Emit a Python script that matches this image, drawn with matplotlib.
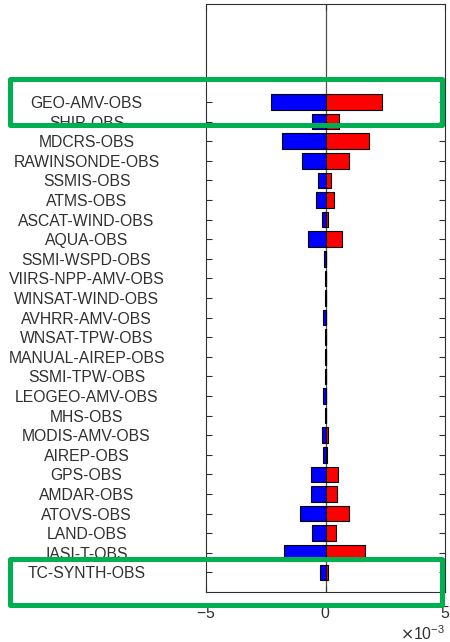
import matplotlib
matplotlib.use("Agg")
import numpy as np
import matplotlib.pyplot as plt
from matplotlib.patches import Rectangle
from matplotlib.ticker import ScalarFormatter

plt.rcParams['font.family'] = ['Liberation Sans', 'DejaVu Sans']

# observation types, listed top to bottom
obs_types = [
    "GEO-AMV-OBS", "SHIP-OBS", "MDCRS-OBS", "RAWINSONDE-OBS", "SSMIS-OBS",
    "ATMS-OBS", "ASCAT-WIND-OBS", "AQUA-OBS", "SSMI-WSPD-OBS",
    "VIIRS-NPP-AMV-OBS", "WINSAT-WIND-OBS", "AVHRR-AMV-OBS", "WNSAT-TPW-OBS",
    "MANUAL-AIREP-OBS", "SSMI-TPW-OBS", "LEOGEO-AMV-OBS", "MHS-OBS",
    "MODIS-AMV-OBS", "AIREP-OBS", "GPS-OBS", "AMDAR-OBS", "ATOVS-OBS",
    "LAND-OBS", "IASI-T-OBS", "TC-SYNTH-OBS",
]

# negative (beneficial) impact, blue
impact_neg = np.array([
    -2.30, -0.56, -1.80, -1.00, -0.31, -0.40, -0.15, -0.75, -0.06,
    -0.02, -0.02, -0.12, -0.02, -0.02, -0.02, -0.10, -0.02, -0.15,
    -0.10, -0.60, -0.60, -1.06, -0.56, -1.75, -0.25,
]) * 1e-3

# positive impact, red
impact_pos = np.array([
    2.35, 0.55, 1.80, 1.00, 0.25, 0.35, 0.10, 0.70, 0.03,
    0.01, 0.01, 0.03, 0.01, 0.01, 0.01, 0.03, 0.01, 0.10,
    0.05, 0.53, 0.50, 1.00, 0.44, 1.65, 0.10,
]) * 1e-3

W, H = 450, 642
fig = plt.figure(figsize=(W / 100, H / 100), dpi=100)
ax = fig.add_axes([206 / W, 1 - 592 / H, 239 / W, 588 / H])

n = len(obs_types)
ypos = np.arange(n, 0, -1)

ax.axvline(0, color='#505050', lw=0.9, zorder=1)
ax.barh(ypos, impact_neg, height=0.8, color='#0000ff', edgecolor='black',
        linewidth=0.8, zorder=2)
ax.barh(ypos, impact_pos, height=0.8, color='#ff0000', edgecolor='black',
        linewidth=0.8, zorder=2)

ax.set_xlim(-5e-3, 5e-3)
ax.set_ylim(0, 30)
ax.set_xticks([-5e-3, 0, 5e-3])
fmt = ScalarFormatter(useMathText=True)
fmt.set_powerlimits((-2, 2))
ax.xaxis.set_major_formatter(fmt)

ax.set_yticks(ypos)
ax.set_yticklabels(obs_types, ha='center')
ax.tick_params(axis='y', direction='in', length=4, width=0.8, pad=86,
               right=True, labelsize=11.3, labelcolor='#303030',
               color='#303030')
ax.tick_params(axis='x', direction='in', length=4, width=0.8, pad=9,
               top=True, labelsize=11.3, labelcolor='#303030',
               color='#303030')
ax.xaxis.get_offset_text().set_fontsize(11.3)
ax.xaxis.get_offset_text().set_color('#303030')

for s in ax.spines.values():
    s.set_color('#303030')
    s.set_linewidth(0.8)

# highlight boxes
for (x0, x1, y0, y1) in [(10, 442, 79, 125), (10, 442, 559, 605)]:
    fig.add_artist(Rectangle((x0 / W, 1 - y1 / H), (x1 - x0) / W, (y1 - y0) / H,
                             transform=fig.transFigure, fill=False,
                             edgecolor='#00b050', lw=3.6, joinstyle='round',
                             zorder=10))

fig.savefig("out.png", dpi=100)
